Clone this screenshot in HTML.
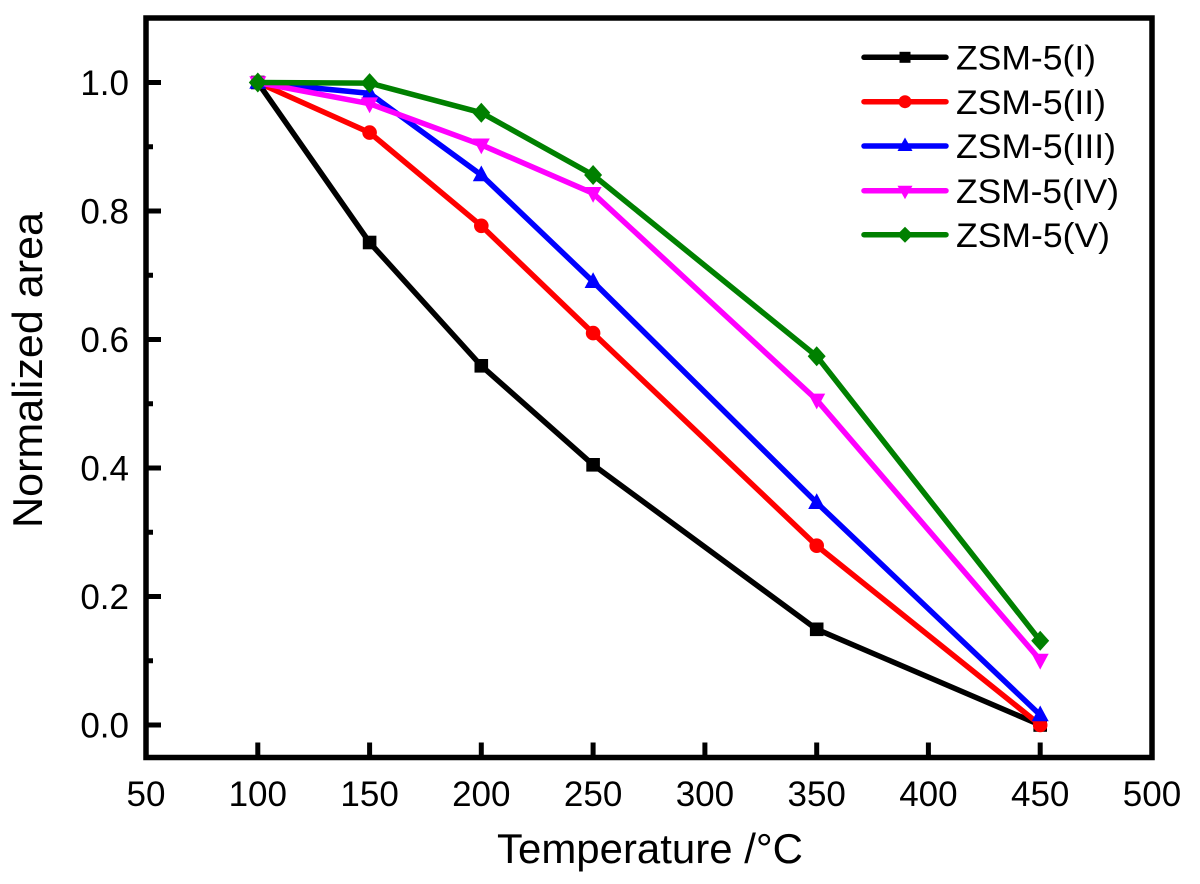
<!DOCTYPE html>
<html>
<head>
<meta charset="utf-8">
<style>
  html, body { margin: 0; padding: 0; background: #ffffff; }
  svg { display: block; }
  text { font-family: "Liberation Sans", Arial, sans-serif; fill: #000; }
</style>
</head>
<body>
<svg width="1200" height="884" viewBox="0 0 1200 884" xmlns="http://www.w3.org/2000/svg">
  <rect x="0" y="0" width="1200" height="884" fill="#ffffff"/>

  <!-- Series I (black, squares) -->
  <polyline fill="none" stroke="#000000" stroke-width="5.5" stroke-linejoin="round"
    points="257.8,82.5 369.6,242.5 481.3,365.8 593.1,464.8 816.7,629.3 1040.2,725"/>
  <g fill="#000000">
    <rect x="251" y="75.7" width="13.6" height="13.6"/>
    <rect x="362.8" y="235.7" width="13.6" height="13.6"/>
    <rect x="474.5" y="359" width="13.6" height="13.6"/>
    <rect x="586.3" y="458" width="13.6" height="13.6"/>
    <rect x="809.9" y="622.5" width="13.6" height="13.6"/>
    <rect x="1033.4" y="718.2" width="13.6" height="13.6"/>
  </g>

  <!-- Series II (red, circles) -->
  <polyline fill="none" stroke="#ff0000" stroke-width="5.5" stroke-linejoin="round"
    points="257.8,82.5 369.6,132.6 481.3,225.8 593.1,333.1 816.7,545.7 1040.2,725"/>
  <g fill="#ff0000">
    <circle cx="257.8" cy="82.5" r="7.3"/>
    <circle cx="369.6" cy="132.6" r="7.3"/>
    <circle cx="481.3" cy="225.8" r="7.3"/>
    <circle cx="593.1" cy="333.1" r="7.3"/>
    <circle cx="816.7" cy="545.7" r="7.3"/>
    <circle cx="1040.2" cy="725" r="7.3"/>
  </g>

  <!-- Series III (blue, up triangles) -->
  <polyline fill="none" stroke="#0000ff" stroke-width="5.5" stroke-linejoin="round"
    points="257.8,82.5 369.6,93.4 481.3,175 593.1,281.7 816.7,502.7 1040.2,715"/>
  <g fill="#0000ff">
    <polygon points="257.8,73 249.3,88.8 266.3,88.8"/>
    <polygon points="369.6,83.9 361.1,99.7 378.1,99.7"/>
    <polygon points="481.3,165.5 472.8,181.3 489.8,181.3"/>
    <polygon points="593.1,272.2 584.6,288 601.6,288"/>
    <polygon points="816.7,493.2 808.2,509 825.2,509"/>
    <polygon points="1040.2,705.5 1031.7,721.3 1048.7,721.3"/>
  </g>

  <!-- Series IV (magenta, down triangles) -->
  <polyline fill="none" stroke="#ff00ff" stroke-width="5.5" stroke-linejoin="round"
    points="257.8,82.5 369.6,103.7 481.3,144.8 593.1,193.3 816.7,399.9 1040.2,660.1"/>
  <g fill="#ff00ff">
    <polygon points="257.8,92 249.3,76.2 266.3,76.2"/>
    <polygon points="369.6,113.2 361.1,97.4 378.1,97.4"/>
    <polygon points="481.3,154.3 472.8,138.5 489.8,138.5"/>
    <polygon points="593.1,202.8 584.6,187 601.6,187"/>
    <polygon points="816.7,409.4 808.2,393.6 825.2,393.6"/>
    <polygon points="1040.2,669.6 1031.7,653.8 1048.7,653.8"/>
  </g>

  <!-- Series V (green, diamonds) -->
  <polyline fill="none" stroke="#008000" stroke-width="5.5" stroke-linejoin="round"
    points="257.8,82.5 369.6,83.1 481.3,112.7 593.1,175 816.7,356.2 1040.2,640.8"/>
  <g fill="#008000">
    <polygon points="257.8,72.5 266.8,82.5 257.8,92.5 248.8,82.5"/>
    <polygon points="369.6,73.1 378.6,83.1 369.6,93.1 360.6,83.1"/>
    <polygon points="481.3,102.7 490.3,112.7 481.3,122.7 472.3,112.7"/>
    <polygon points="593.1,165 602.1,175 593.1,185 584.1,175"/>
    <polygon points="816.7,346.2 825.7,356.2 816.7,366.2 807.7,356.2"/>
    <polygon points="1040.2,630.8 1049.2,640.8 1040.2,650.8 1031.2,640.8"/>
  </g>

  <!-- Frame -->
  <rect x="146" y="18" width="1006" height="739.5" fill="none" stroke="#000" stroke-width="5.5"/>

  <!-- Y major ticks -->
  <g stroke="#000" stroke-width="5">
    <line x1="146" y1="725" x2="161" y2="725"/>
    <line x1="146" y1="596.5" x2="161" y2="596.5"/>
    <line x1="146" y1="468" x2="161" y2="468"/>
    <line x1="146" y1="339.5" x2="161" y2="339.5"/>
    <line x1="146" y1="211" x2="161" y2="211"/>
    <line x1="146" y1="82.5" x2="161" y2="82.5"/>
    <!-- minor -->
    <line x1="146" y1="660.75" x2="153" y2="660.75"/>
    <line x1="146" y1="532.25" x2="153" y2="532.25"/>
    <line x1="146" y1="403.75" x2="153" y2="403.75"/>
    <line x1="146" y1="275.25" x2="153" y2="275.25"/>
    <line x1="146" y1="146.75" x2="153" y2="146.75"/>
  </g>

  <!-- X ticks -->
  <g stroke="#000" stroke-width="5">
    <line x1="257.8" y1="757" x2="257.8" y2="742.5"/>
    <line x1="369.6" y1="757" x2="369.6" y2="742.5"/>
    <line x1="481.3" y1="757" x2="481.3" y2="742.5"/>
    <line x1="593.1" y1="757" x2="593.1" y2="742.5"/>
    <line x1="704.9" y1="757" x2="704.9" y2="742.5"/>
    <line x1="816.7" y1="757" x2="816.7" y2="742.5"/>
    <line x1="928.4" y1="757" x2="928.4" y2="742.5"/>
    <line x1="1040.2" y1="757" x2="1040.2" y2="742.5"/>
  </g>

  <!-- Y tick labels -->
  <g font-size="35" text-anchor="end">
    <text x="129" y="737.5">0.0</text>
    <text x="129" y="609">0.2</text>
    <text x="129" y="480.5">0.4</text>
    <text x="129" y="352">0.6</text>
    <text x="129" y="223.5">0.8</text>
    <text x="129" y="95">1.0</text>
  </g>

  <!-- X tick labels -->
  <g font-size="35" text-anchor="middle">
    <text x="146" y="806">50</text>
    <text x="257.8" y="806">100</text>
    <text x="369.6" y="806">150</text>
    <text x="481.3" y="806">200</text>
    <text x="593.1" y="806">250</text>
    <text x="704.9" y="806">300</text>
    <text x="816.7" y="806">350</text>
    <text x="928.4" y="806">400</text>
    <text x="1040.2" y="806">450</text>
    <text x="1152" y="806">500</text>
  </g>

  <!-- Axis titles -->
  <text x="497" y="863" font-size="42" textLength="306" lengthAdjust="spacingAndGlyphs">Temperature /°C</text>
  <text transform="translate(42,528) rotate(-90)" x="0" y="0" font-size="42" textLength="316" lengthAdjust="spacingAndGlyphs">Normalized area</text>

  <!-- Legend -->
  <g stroke-width="5.5" stroke-linecap="round">
    <line x1="864" y1="57.3" x2="946" y2="57.3" stroke="#000000"/>
    <line x1="864" y1="101.7" x2="946" y2="101.7" stroke="#ff0000"/>
    <line x1="864" y1="146" x2="946" y2="146" stroke="#0000ff"/>
    <line x1="864" y1="190.7" x2="946" y2="190.7" stroke="#ff00ff"/>
    <line x1="864" y1="234.7" x2="946" y2="234.7" stroke="#008000"/>
  </g>
  <rect x="899.5" y="51.8" width="11" height="11" fill="#000000"/>
  <circle cx="905" cy="101.7" r="6.5" fill="#ff0000"/>
  <polygon points="905,137.5 897.5,151 912.5,151" fill="#0000ff"/>
  <polygon points="905,199.2 897.5,185.7 912.5,185.7" fill="#ff00ff"/>
  <polygon points="905,226.7 913,234.7 905,242.7 897,234.7" fill="#008000"/>

  <g font-size="34">
    <text x="956" y="69.5" textLength="140" lengthAdjust="spacingAndGlyphs">ZSM-5(I)</text>
    <text x="956" y="113.9" textLength="150" lengthAdjust="spacingAndGlyphs">ZSM-5(II)</text>
    <text x="956" y="158.2" textLength="160" lengthAdjust="spacingAndGlyphs">ZSM-5(III)</text>
    <text x="956" y="202.9" textLength="163" lengthAdjust="spacingAndGlyphs">ZSM-5(IV)</text>
    <text x="956" y="246.9" textLength="154" lengthAdjust="spacingAndGlyphs">ZSM-5(V)</text>
  </g>
</svg>
</body>
</html>
